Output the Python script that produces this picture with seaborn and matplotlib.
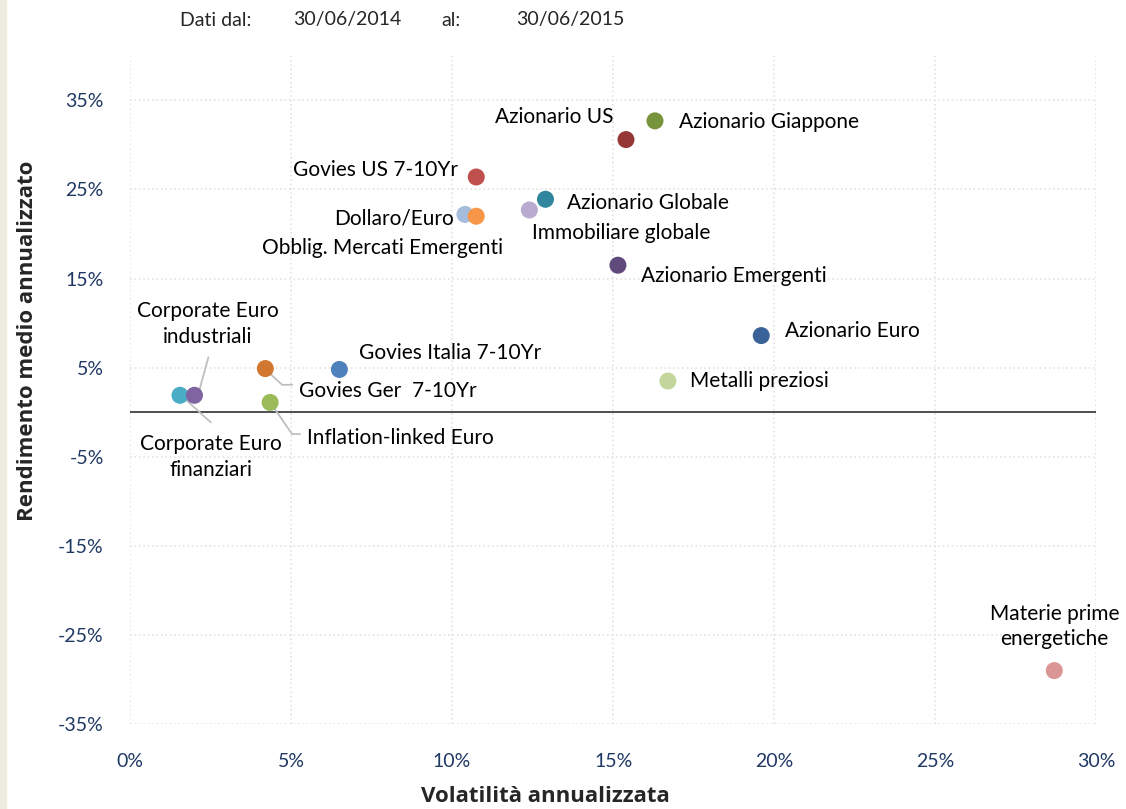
import pandas as pd
import matplotlib.pyplot as plt
import matplotlib.patches as mpatches
import seaborn as sns
from matplotlib.ticker import PercentFormatter

# Dati (volatilità e rendimento annualizzati, in %)
nomi = ['Azionario Giappone', 'Azionario US', 'Govies US 7-10Yr', 'Azionario Globale',
        'Dollaro/Euro', 'Obblig. Mercati Emergenti', 'Immobiliare globale',
        'Azionario Emergenti', 'Azionario Euro', 'Metalli preziosi',
        'Materie prime\nenergetiche', 'Govies Italia 7-10Yr', 'Govies Ger  7-10Yr',
        'Inflation-linked Euro', 'Corporate Euro\nfinanziari', 'Corporate Euro\nindustriali']
volatilita = [16.3, 15.4, 10.75, 12.9, 10.4, 10.75, 12.4, 15.15, 19.6, 16.7,
              28.7, 6.5, 4.2, 4.35, 1.55, 2.0]
rendimento = [32.7, 30.6, 26.4, 23.9, 22.2, 22.0, 22.7, 16.5, 8.6, 3.5,
              -29.0, 4.8, 4.9, 1.1, 1.9, 1.9]
colori = ['#77933C', '#953735', '#C0504D', '#31859C', '#A6BCDC', '#F79646', '#B9ABCF',
          '#604A7B', '#3A6499', '#C3D69B', '#D99694', '#4F81BD', '#D2772F',
          '#9BBB59', '#4BACC6', '#8064A2']

df = pd.DataFrame({'nome': nomi, 'vol': volatilita, 'rend': rendimento})

sns.set_style('white')
plt.rcParams['font.family'] = ['Lato', 'DejaVu Sans']
plt.rcParams['axes.unicode_minus'] = False

fig = plt.figure(figsize=(11.26, 8.09), dpi=100)
ax = fig.add_axes([0.1155, 0.105, 0.858, 0.826])
fig.patches.append(mpatches.Rectangle((0, 0), 6 / 1126, 1, transform=fig.transFigure,
                                      color='#EEEBE0', zorder=0))

ax.axhline(0, color='#404040', lw=1.3, zorder=1)
sns.scatterplot(data=df, x='vol', y='rend', hue='nome', palette=dict(zip(nomi, colori)),
                s=150, linewidth=0, legend=False, ax=ax, zorder=3)

# posizione delle etichette (offset in pixel dal punto), allineamento, linea guida
etichette = {
    'Azionario Giappone': ((24, -1), 'left', None),
    'Azionario US': ((-12, 23), 'right', None),
    'Govies US 7-10Yr': ((-18, 7), 'right', None),
    'Azionario Globale': ((22, -4), 'left', None),
    'Dollaro/Euro': ((-11, -4), 'right', None),
    'Obblig. Mercati Emergenti': ((27, -32), 'right', None),
    'Immobiliare globale': ((3, -23), 'left', None),
    'Azionario Emergenti': ((23, -11), 'left', None),
    'Azionario Euro': ((24, 5), 'left', None),
    'Metalli preziosi': ((22, 0), 'left', None),
    'Materie prime\nenergetiche': ((0, 44), 'center', None),
    'Govies Italia 7-10Yr': ((20, 16), 'left', None),
    'Govies Ger  7-10Yr': ((34, -22), 'left', [(2, -3), (17, -18), (27, -18)]),
    'Inflation-linked Euro': ((37, -36), 'left', [(2, -3), (22, -35), (30, -35)]),
    'Corporate Euro\nfinanziari': ((31, -62), 'center', [(4, -3), (31, -30)]),
    'Corporate Euro\nindustriali': ((13, 71), 'center', [(3, -2), (14, 42)]),
}

to_px = ax.transData
inv = ax.transData.inverted()
for n, v, r in zip(nomi, volatilita, rendimento):
    (dx, dy), ha, guida = etichette[n]
    ax.annotate(n, (v, r), xytext=(dx, dy), textcoords='offset pixels', ha=ha,
                va='center', fontsize=15, color='black', linespacing=1.35, zorder=4)
    if guida:
        px, py = to_px.transform((v, r))
        pts = [inv.transform((px + gx, py + gy)) for gx, gy in guida]
        ax.plot([p[0] for p in pts], [p[1] for p in pts], color='#BFBFBF', lw=1.3, zorder=2)

ax.set_xlim(0, 30)
ax.set_ylim(-35, 40)
ax.set_xticks(range(0, 31, 5))
ax.set_yticks(range(-35, 36, 10))
ax.xaxis.set_major_formatter(PercentFormatter(decimals=0))
ax.yaxis.set_major_formatter(PercentFormatter(decimals=0))
ax.tick_params(axis='both', colors='#1F3864', labelsize=14, length=0)
ax.tick_params(axis='x', pad=21)
ax.tick_params(axis='y', pad=19)
ax.grid(True, color='#E3E3E3', linestyle=':', lw=1.2)
for s in ax.spines.values():
    s.set_visible(False)
ax.set_xlabel('')
ax.set_ylabel('')

fig.text(545 / 1126, 1 - 797 / 809, 'Volatilità annualizzata', ha='center', va='center',
         fontsize=16, fontweight='bold', family=['Open Sans', 'DejaVu Sans'])
fig.text(28 / 1126, 1 - 341 / 809, 'Rendimento medio annualizzato', ha='center',
         va='center', rotation=90, fontsize=16, fontweight='bold',
         family=['Open Sans', 'DejaVu Sans'])
for x, t in [(180, 'Dati dal:'), (293, '30/06/2014'), (441, 'al:'), (516, '30/06/2015')]:
    fig.text(x / 1126, 1 - 20 / 809, t, ha='left', va='center', fontsize=14)

fig.savefig('out.png', dpi=100)
